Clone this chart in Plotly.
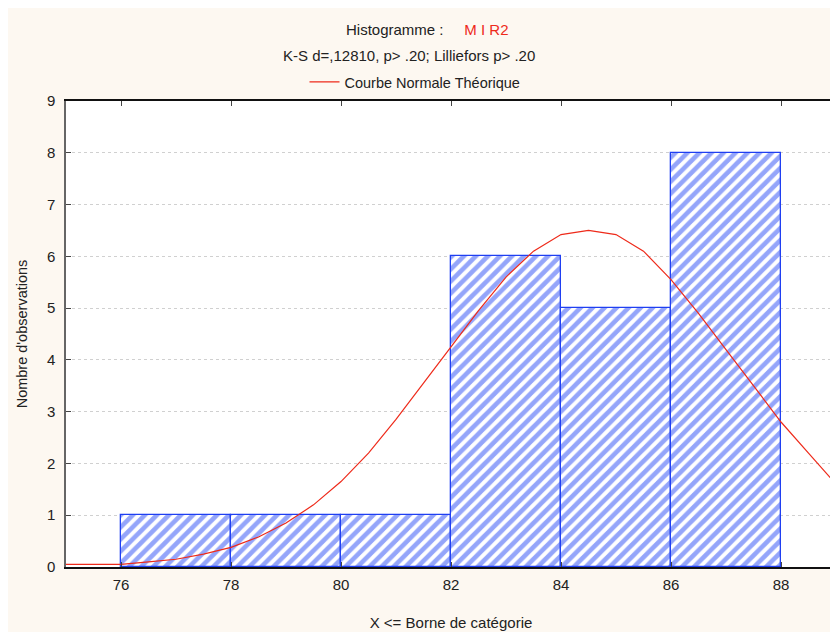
import plotly.graph_objects as go

# Histogram data: upper bin bounds (X <= borne) and counts
bin_upper = [78, 80, 82, 84, 86, 88]
counts = [1, 1, 1, 6, 5, 8]
bin_width = 2

# Theoretical normal curve
curve_x = [75, 75.5, 76, 76.5, 77, 77.5, 78, 78.5, 79, 79.5, 80, 80.5, 81, 81.5,
           82, 82.5, 83, 83.5, 84, 84.5, 85, 85.5, 86, 86.5, 87, 87.5, 88, 88.5, 89]
curve_y = [0.05, 0.05, 0.05, 0.1, 0.15, 0.25, 0.38, 0.58, 0.85, 1.2, 1.65, 2.2, 2.85, 3.55,
           4.25, 4.95, 5.6, 6.1, 6.42, 6.5, 6.42, 6.1, 5.55, 4.9, 4.2, 3.5, 2.8, 2.2, 1.6]

x_ticks = [76, 78, 80, 82, 84, 86, 88]
y_ticks = list(range(0, 10))

font = "Liberation Sans, Arial, sans-serif"
bg = "#fdf8f1"
L, R, T, B = 58, 10, 93, 73
W, HH = 838, 632
PW = W - L - R   # plot width
H = HH - T - B   # plot height


def ypix(p):
    """paper y for a figure pixel row p (from top)"""
    return 1 + (T - p) / H


def xpix(p):
    """paper x for a figure pixel column p (from left)"""
    return (p - L) / PW


fig = go.Figure()
fig.add_trace(go.Bar(
    x=bin_upper, y=counts, width=bin_width, offset=-bin_width,
    marker=dict(color="white", line=dict(color="#1f3ff2", width=1.3),
                pattern=dict(shape="/", fgcolor="#2a4bf5", bgcolor="white",
                             size=8.5, solidity=0.55)),
    showlegend=False, hoverinfo="skip"))
fig.add_trace(go.Scatter(
    x=curve_x, y=curve_y, mode="lines", line=dict(color="#ee2a1a", width=1.2),
    name="Courbe Normale Théorique"))

fig.update_layout(
    width=W, height=HH,
    paper_bgcolor=bg, plot_bgcolor="white",
    margin=dict(l=L, r=R, t=T, b=B, autoexpand=False),
    font=dict(family=font, size=15, color="#222"),
    bargap=0,
    legend=dict(orientation="h", x=xpix(407), xanchor="center", y=ypix(74),
                yanchor="middle", bgcolor="rgba(0,0,0,0)", font=dict(size=14.5)),
    xaxis=dict(range=[75, 89], tickvals=x_ticks, ticks="inside", ticklen=5,
               tickfont=dict(size=15), automargin=False, ticklabelstandoff=3,
               showline=True, linecolor="#111", linewidth=1.5, mirror="ticks",
               showgrid=False, zeroline=False,
               title=dict(text="X <= Borne de catégorie", standoff=26, font=dict(size=15))),
    yaxis=dict(range=[0, 9], tickvals=y_ticks, ticks="inside", ticklen=5,
               tickfont=dict(size=15), automargin=False, ticklabelstandoff=6,
               showline=True, linecolor="#666", linewidth=1.5, mirror="ticks",
               showgrid=True, gridcolor="#d0d0d0", griddash="dot", zeroline=False,
               title=dict(text="Nombre d'observations", standoff=16, font=dict(size=14.5))),
    annotations=[
        dict(text="Histogramme :     <span style='color:#ee2a1a'>M I R2</span>",
             x=xpix(419), y=ypix(22), xref="paper", yref="paper",
             xanchor="center", yanchor="middle", showarrow=False),
        dict(text="K-S d=,12810, p> .20; Lilliefors p> .20",
             x=xpix(401), y=ypix(48), xref="paper", yref="paper",
             xanchor="center", yanchor="middle", showarrow=False),
    ],
)

fig.write_html("out.html")
